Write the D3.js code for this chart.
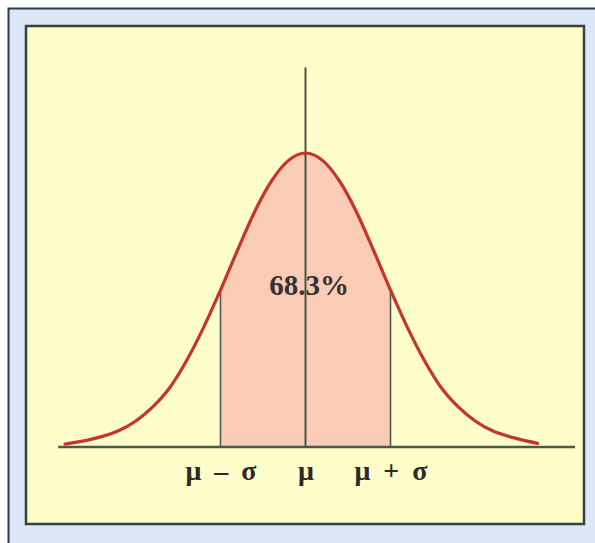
<!DOCTYPE html>
<html>
<head>
<meta charset="utf-8">
<script src="https://cdn.jsdelivr.net/npm/d3@7"></script>
<style>
  html, body { margin: 0; padding: 0; background: #ffffff; }
  svg { display: block; }
</style>
</head>
<body>
<svg id="chart" width="595" height="543"></svg>
<script>
// Bell curve, x in units of sigma from the mean, y as probability density
const curveX = [-2.83, -2.5, -2.2, -2.0, -1.8, -1.6, -1.4, -1.2, -1.0, -0.8, -0.6, -0.4, -0.2, 0,
                0.2, 0.4, 0.6, 0.8, 1.0, 1.2, 1.4, 1.6, 1.8, 2.0, 2.2, 2.5, 2.73];
const curveY = [0.004, 0.011, 0.022, 0.035, 0.054, 0.080, 0.117, 0.162, 0.213, 0.267, 0.319, 0.361, 0.389, 0.399,
                0.389, 0.361, 0.319, 0.267, 0.213, 0.162, 0.117, 0.080, 0.054, 0.035, 0.022, 0.011, 0.005];

// Marked positions and their labels
const tickValues = [-1, 0, 1];
const tickLabels = ["μ – σ", "μ", "μ + σ"];

// Share of the area between μ − σ and μ + σ
const shadedFrom = -1, shadedTo = 1;
const shadedLabel = "68.3%";

// Extent of the horizontal axis line and height of the mean line
const axisExtent = [-2.91, 3.17];
const meanLineTop = 0.515;

const svg = d3.select("#chart");

// Outer frame (runs past the right and bottom edges)
svg.append("rect")
  .attr("x", 8.5).attr("y", 8.5)
  .attr("width", 620).attr("height", 620)
  .attr("fill", "#dce7f7")
  .attr("stroke", "#2e3a3a").attr("stroke-width", 2);

// Inner panel
svg.append("rect")
  .attr("x", 26).attr("y", 26)
  .attr("width", 558).attr("height", 498)
  .attr("fill", "#fffdc9")
  .attr("stroke", "#36423e").attr("stroke-width", 2.5);

const x = d3.scaleLinear().domain([-1, 1]).range([220.5, 390.5]);
const y = d3.scaleLinear().domain([0, 0.399]).range([447, 153]);

const pts = curveX.map((v, i) => [v, curveY[i]]);
const curveType = d3.curveMonotoneX;

// Shaded area between μ − σ and μ + σ, clipped from the full area under the curve
svg.append("clipPath").attr("id", "band")
  .append("rect")
  .attr("x", x(shadedFrom)).attr("y", 0)
  .attr("width", x(shadedTo) - x(shadedFrom)).attr("height", y(0));

svg.append("path")
  .datum(pts)
  .attr("clip-path", "url(#band)")
  .attr("fill", "#fbccb5")
  .attr("d", d3.area().x(d => x(d[0])).y0(y(0)).y1(d => y(d[1])).curve(curveType));

// Lines at μ − σ and μ + σ, up to the curve
const atTick = v => curveY[curveX.indexOf(v)];
svg.selectAll("line.sigma")
  .data([shadedFrom, shadedTo])
  .join("line")
  .attr("class", "sigma")
  .attr("x1", d => x(d)).attr("x2", d => x(d))
  .attr("y1", y(0)).attr("y2", d => y(atTick(d)))
  .attr("stroke", "#505a52").attr("stroke-width", 1.6);

// Mean line
svg.append("line")
  .attr("x1", x(0)).attr("x2", x(0))
  .attr("y1", y(0)).attr("y2", y(meanLineTop))
  .attr("stroke", "#4a524a").attr("stroke-width", 2);

// Horizontal axis line
svg.append("line")
  .attr("x1", x(axisExtent[0])).attr("x2", x(axisExtent[1]))
  .attr("y1", y(0)).attr("y2", y(0))
  .attr("stroke", "#4a5a4c").attr("stroke-width", 2.5);

// Bell curve
svg.append("path")
  .datum(pts)
  .attr("fill", "none")
  .attr("stroke", "#c4352c")
  .attr("stroke-width", 3.2)
  .attr("stroke-linejoin", "round")
  .attr("stroke-linecap", "round")
  .attr("d", d3.line().x(d => x(d[0])).y(d => y(d[1])).curve(curveType));

// Tick labels
const axis = d3.axisBottom(x)
  .tickValues(tickValues)
  .tickSize(0)
  .tickPadding(0)
  .tickFormat((d, i) => tickLabels[i]);

const gAxis = svg.append("g")
  .attr("transform", `translate(0,${y(0)})`)
  .call(axis);
gAxis.select(".domain").remove();
gAxis.selectAll("text")
  .attr("dy", null)
  .attr("y", 33)
  .attr("fill", "#2a2a2a")
  .style("font-family", "'Liberation Serif', 'Times New Roman', serif")
  .style("font-weight", "bold")
  .style("font-size", "28px")
  .style("word-spacing", "6px");

// Percentage label
svg.append("text")
  .attr("x", 309).attr("y", 295)
  .attr("text-anchor", "middle")
  .attr("fill", "#333333")
  .style("font-family", "'Liberation Serif', 'Times New Roman', serif")
  .style("font-weight", "bold")
  .style("font-size", "29px")
  .text(shadedLabel);
</script>
</body>
</html>
